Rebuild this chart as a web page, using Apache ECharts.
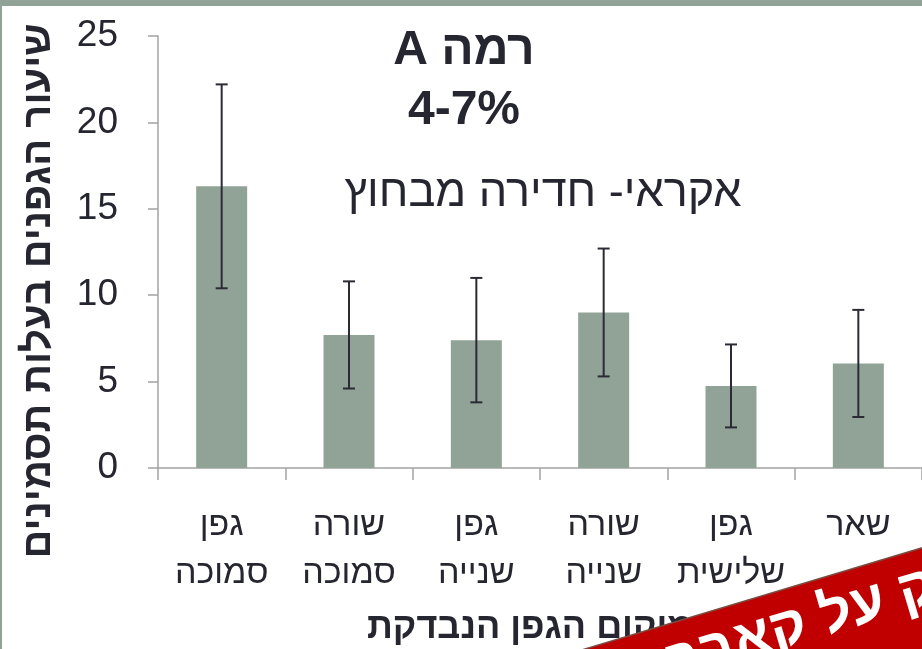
<!DOCTYPE html>
<html>
<head>
<meta charset="utf-8">
<script src="https://cdn.jsdelivr.net/npm/echarts@6/dist/echarts.min.js"></script>
<style>
html,body{margin:0;padding:0;background:#fff;}
#chart{width:922px;height:649px;}
</style>
</head>
<body>
<div id="chart" dir="rtl"></div>
<script>
// ---- data ----
const categories = ['גפן\nסמוכה', 'שורה\nסמוכה', 'גפן\nשנייה', 'שורה\nשנייה', 'גפן\nשלישית', 'שאר'];
const means = [16.3, 7.7, 7.4, 9.0, 4.75, 6.05];
const errors = [5.9, 3.1, 3.6, 3.7, 2.4, 3.1];
const yMin = 0, yMax = 25, yInterval = 5;
const titleLine1 = 'רמה A';
const titleLine2 = '4-7%';
const subtitle = 'אקראי- חדירה מבחוץ';
const yName = 'שיעור הגפנים בעלות תסמינים';
const xName = 'מיקום הגפן הנבדקת';
const bannerText = 'נזק על קאברנה';

const FONT = '"Liberation Sans", Arial, sans-serif';
const TXT = '#262631';
const BAR = '#91a397';
const AXIS = '#a3a3a3';

const errData = means.map((m, i) => [i, m - errors[i], m + errors[i]]);

const chart = echarts.init(document.getElementById('chart'), null, {renderer: 'canvas'});
const bannerAngle = 16.7 * Math.PI / 180;

chart.setOption({
  animation: false,
  backgroundColor: '#ffffff',
  grid: {left: 158, right: -8, top: 36, bottom: 181, containLabel: false},
  xAxis: {
    type: 'category',
    data: categories,
    axisLine: {lineStyle: {color: AXIS, width: 1.5}},
    axisTick: {show: true, length: 12, alignWithLabel: false, lineStyle: {color: AXIS, width: 1.5}},
    axisLabel: {
      interval: 0, margin: 34, fontFamily: FONT, fontSize: 34, lineHeight: 48, color: TXT
    },
    splitLine: {show: false}
  },
  yAxis: {
    type: 'value',
    min: yMin, max: yMax, interval: yInterval,
    axisLine: {show: true, lineStyle: {color: AXIS, width: 1.5}},
    axisTick: {show: true, length: 10, lineStyle: {color: AXIS, width: 1.5}},
    axisLabel: {margin: 40, fontFamily: FONT, fontSize: 37, color: TXT},
    splitLine: {show: false}
  },
  series: [
    {
      type: 'bar',
      data: means,
      barWidth: 51,
      itemStyle: {color: BAR},
      z: 2
    },
    {
      type: 'custom',
      data: errData,
      z: 3,
      renderItem: function (params, api) {
        const x = api.value(0);
        const lo = api.coord([x, api.value(1)]);
        const hi = api.coord([x, api.value(2)]);
        const cw = 6;
        const st = {stroke: '#2b2b36', lineWidth: 2};
        return {
          type: 'group',
          children: [
            {type: 'line', shape: {x1: hi[0], y1: hi[1], x2: lo[0], y2: lo[1]}, style: st},
            {type: 'line', shape: {x1: hi[0] - cw, y1: hi[1], x2: hi[0] + cw, y2: hi[1]}, style: st},
            {type: 'line', shape: {x1: lo[0] - cw, y1: lo[1], x2: lo[0] + cw, y2: lo[1]}, style: st}
          ]
        };
      }
    }
  ],
  graphic: [
    {type: 'rect', left: 0, top: 0, shape: {width: 922, height: 6}, style: {fill: BAR}, z: 50},
    {type: 'rect', left: 0, top: 0, shape: {width: 2, height: 649}, style: {fill: BAR}, z: 50},
    {type: 'text', x: 464, y: 51, style: {text: titleLine1, font: 'bold 48px ' + FONT, fill: TXT, textAlign: 'center', textVerticalAlign: 'middle'}},
    {type: 'text', x: 464, y: 111, style: {text: titleLine2, font: 'bold 48px ' + FONT, fill: TXT, textAlign: 'center', textVerticalAlign: 'middle'}},
    {type: 'text', x: 543, y: 194, style: {text: subtitle, font: '45px ' + FONT, fill: TXT, textAlign: 'center', textVerticalAlign: 'middle'}},
    {type: 'text', x: 39, y: 291, rotation: Math.PI / 2, style: {text: yName, font: 'bold 40px ' + FONT, fill: TXT, textAlign: 'center', textVerticalAlign: 'middle'}},
    {type: 'text', x: 367, y: 628, style: {text: xName, font: 'bold 36px ' + FONT, fill: TXT, textAlign: 'left', textVerticalAlign: 'middle'}},
    {
      type: 'group', x: 585, y: 649, rotation: bannerAngle, z: 100,
      children: [
        {type: 'rect', shape: {x: -60, y: 0, width: 700, height: 300}, style: {fill: '#c00000', stroke: '#7b4a40', lineWidth: 1.5}},
        {type: 'text', x: 398, y: 40, style: {text: bannerText, font: 'bold 56px ' + FONT, fill: '#ffffff', textAlign: 'right', textVerticalAlign: 'middle'}}
      ]
    }
  ]
});
</script>
</body>
</html>
